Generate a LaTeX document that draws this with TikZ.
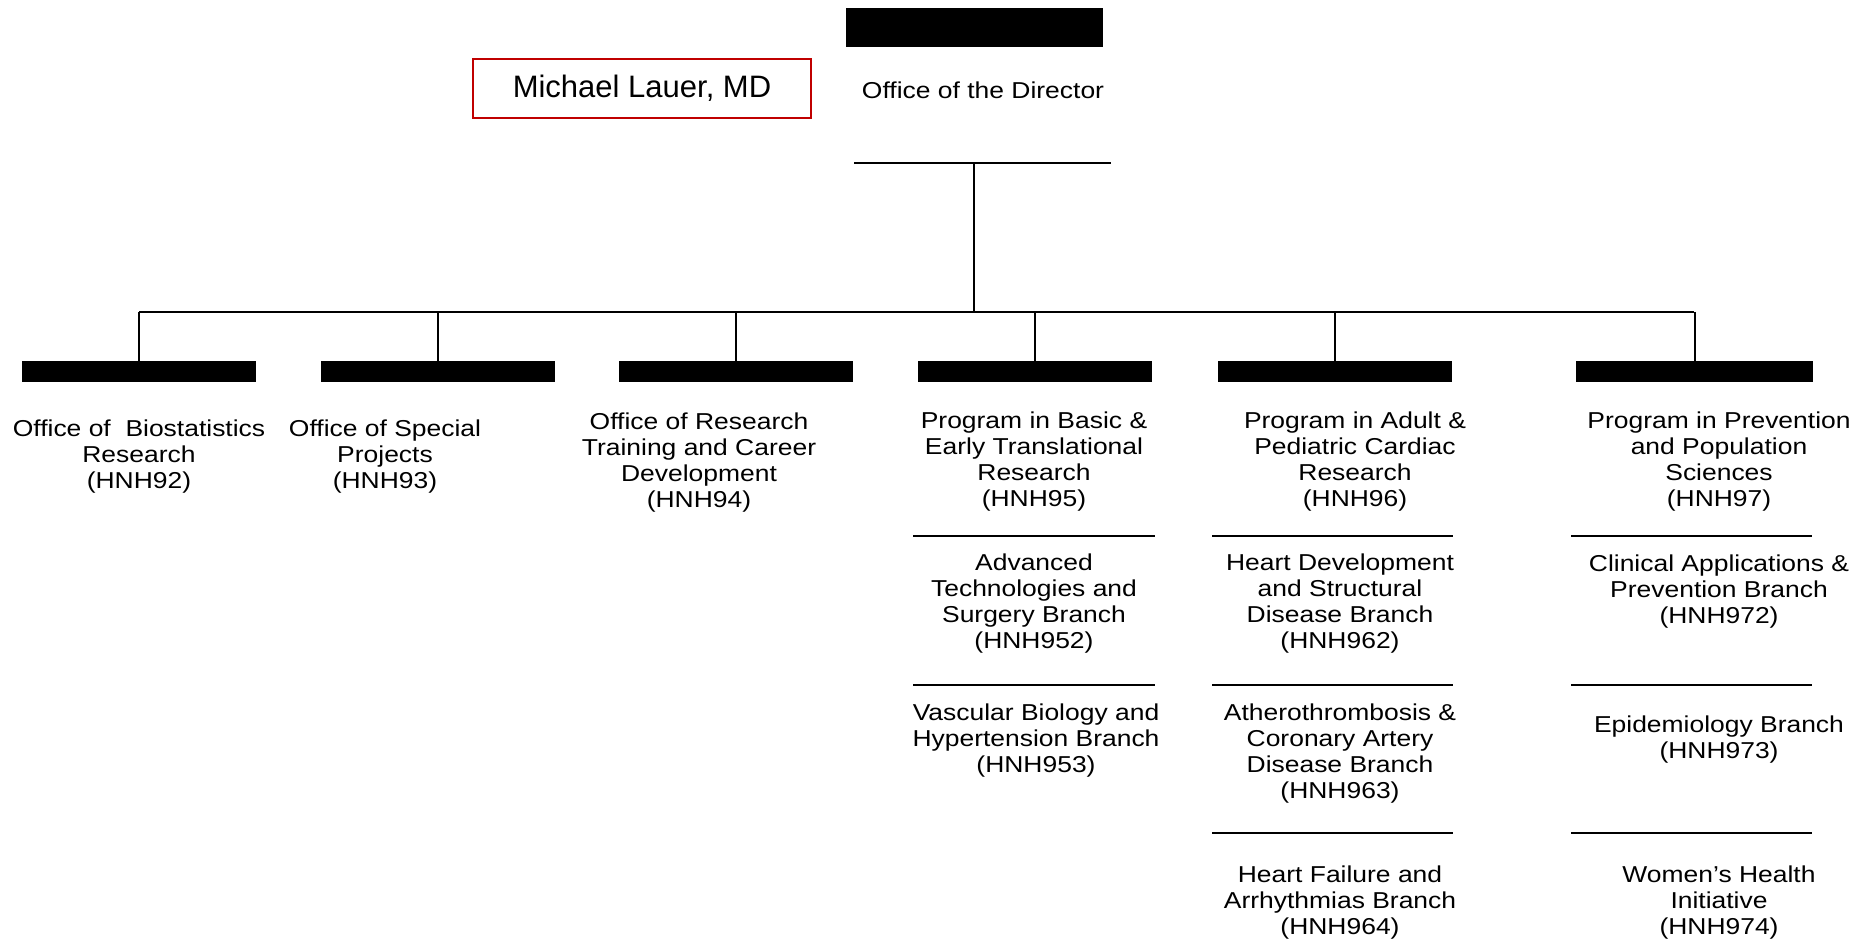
\documentclass[tikz,border=0pt]{standalone}
\usepackage{fontspec}
\newfontfamily\orgfont[FakeStretch=1.15]{Liberation Sans}
\newfontfamily\namefont{Liberation Sans}
\usepackage{tikz}
\usetikzlibrary{positioning,calc}
\definecolor{laured}{RGB}{192,0,0}

\begin{document}
\begin{tikzpicture}[x=0.5pt,y=-0.5pt,
  lbl/.style={align=center,inner sep=0pt,anchor=north,font=\orgfont\fontsize{11.5}{13.15}\selectfont},
  blackbar/.style={fill=black,inner sep=0pt,minimum width=117pt,minimum height=10.5pt},
  wire/.style={line width=1pt},
  rule/.style={line width=1.2pt}]
\useasboundingbox (0,0) rectangle (1866,940);
% director
\node[fill=black,inner sep=0pt,minimum width=128.5pt,minimum height=19.5pt] (dirbar) at (974.5,27.5) {};
\node[inner sep=0pt,font=\orgfont\fontsize{11.5}{13.15}\selectfont] (dirtxt) at (983,90) {Office of the Director};
\node[draw=laured,line width=1pt,minimum width=169pt,minimum height=29.5pt,inner sep=0pt,font=\namefont\fontsize{15.5}{18}\selectfont] (lauer) at (642,88.5) {Michael Lauer, MD};
\coordinate (dirL) at (854,163);
\coordinate (dirR) at (1111,163);
\coordinate (dirM) at (974,163);
\coordinate (busL) at (139,312);
\coordinate (busR) at (1694,312);
\draw[wire] (dirL) -- (dirR);
\draw[wire] (dirM) -- (dirM |- busL);
\draw[wire] (busL) -- (busR);
% bars
\node[blackbar] (bar1) at (138.5,372) {};
\node[blackbar] (bar2) at (438,372) {};
\node[blackbar] (bar3) at (735.5,372) {};
\node[blackbar] (bar4) at (1035,372) {};
\node[blackbar] (bar5) at (1334.5,372) {};
\node[blackbar,minimum width=118.5pt] (bar6) at (1694.5,372) {};
\foreach \b in {bar1,bar2,bar3,bar4,bar5,bar6}
  \draw[wire] (\b.north |- busL) -- (\b.north);
% offices and programs
\node[lbl] (hnh92) at (139,419) {Office of\ \ Biostatistics\\Research\\(HNH92)};
\node[lbl] (hnh93) at (385,419) {Office of Special\\Projects\\(HNH93)};
\node[lbl] (hnh94) at (699,412) {Office of Research\\Training and Career\\Development\\(HNH94)};
\node[lbl] (hnh95) at (1034,411) {Program in Basic \&\\Early Translational\\Research\\(HNH95)};
\node[lbl] (hnh96) at (1355,411) {Program in Adult \&\\Pediatric Cardiac\\Research\\(HNH96)};
\node[lbl] (hnh97) at (1719,411) {Program in Prevention\\and Population\\Sciences\\(HNH97)};
% branches
\draw[rule] (913,536) -- (1155,536);
\draw[rule] (913,685) -- (1155,685);
\node[lbl] (hnh952) at (1034,553) {Advanced\\Technologies and\\Surgery Branch\\(HNH952)};
\node[lbl] (hnh953) at (1036,703) {Vascular Biology and\\Hypertension Branch\\(HNH953)};
\draw[rule] (1212,536) -- (1453,536);
\draw[rule] (1212,685) -- (1453,685);
\draw[rule] (1212,833) -- (1453,833);
\node[lbl] (hnh962) at (1340,553) {Heart Development\\and Structural\\Disease Branch\\(HNH962)};
\node[lbl] (hnh963) at (1340,703) {Atherothrombosis \&\\Coronary Artery\\Disease Branch\\(HNH963)};
\node[lbl] (hnh964) at (1340,865) {Heart Failure and\\Arrhythmias Branch\\(HNH964)};
\draw[rule] (1571,536) -- (1812,536);
\draw[rule] (1571,685) -- (1812,685);
\draw[rule] (1571,833) -- (1812,833);
\node[lbl] (hnh972) at (1719,554) {Clinical Applications \&\\Prevention Branch\\(HNH972)};
\node[lbl] (hnh973) at (1719,715) {Epidemiology Branch\\(HNH973)};
\node[lbl] (hnh974) at (1719,865) {Women’s Health\\Initiative\\(HNH974)};
\end{tikzpicture}
\end{document}
